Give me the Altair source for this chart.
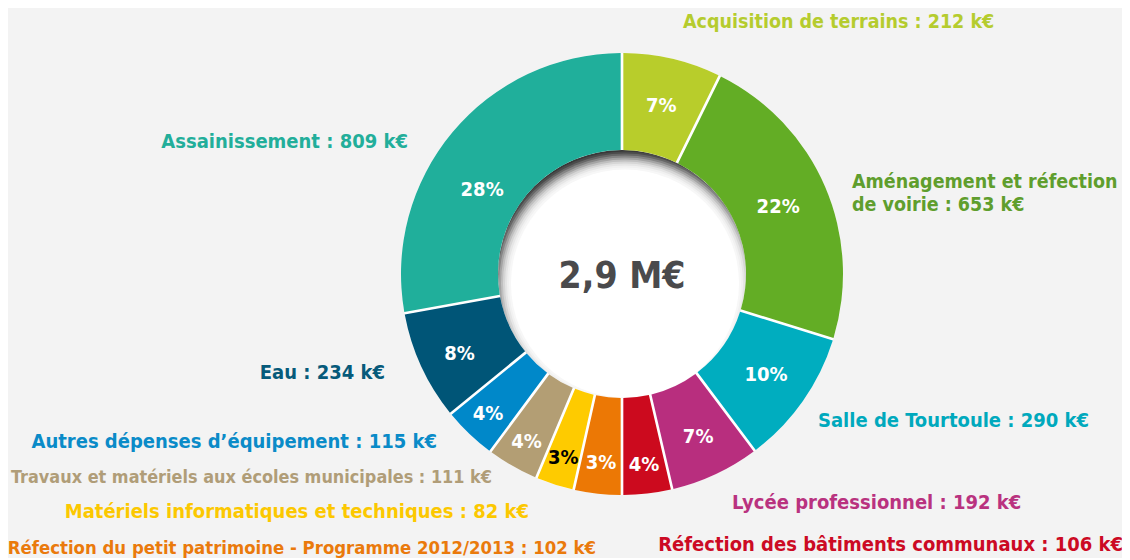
import math
import altair as alt
import pandas as pd

# ---- data ----
categories = [
    "Acquisition de terrains",
    "Aménagement et réfection de voirie",
    "Salle de Tourtoule",
    "Lycée professionnel",
    "Réfection des bâtiments communaux",
    "Réfection du petit patrimoine - Programme 2012/2013",
    "Matériels informatiques et techniques",
    "Travaux et matériels aux écoles municipales",
    "Autres dépenses d’équipement",
    "Eau",
    "Assainissement",
]
values_keur = [212, 653, 290, 192, 106, 102, 82, 111, 115, 234, 809]
pct_labels = ["7%", "22%", "10%", "7%", "4%", "3%", "3%", "4%", "4%", "8%", "28%"]
total_label = "2,9 M€"

# ---- styles / layout ----
slice_colors = ["#b8cd2b", "#63ad25", "#00adbf", "#b82e7e", "#cc0a1e", "#ec7805",
                "#fecb00", "#b39e74", "#0088c9", "#005577", "#20af9b"]
label_colors = ["#b5cc2e", "#5f9e2d", "#00a9bd", "#b9327f", "#cc0a24", "#ea7a0c",
                "#fcc800", "#b09d78", "#0a8bc8", "#065a7a", "#22ae9a"]
pct_text_colors = ["white"] * 11
pct_text_colors[6] = "black"
# radius (px) of each percentage label and an angular nudge (degrees) from the slice middle
pct_radius = [173, 170, 176, 180, 192, 190, 193, 193, 194, 181, 163]
pct_nudge_deg = [0, 0, 0, 0, 0, 0, 0, 0, 0, -1.5, -9]

FONT = "DejaVu Sans Condensed, sans-serif"
W, H = 1114, 550
CX, CY = 614, 266
R_OUT, R_IN = 221, 124

total = sum(values_keur)
df = pd.DataFrame({
    "idx": list(range(len(categories))),
    "cat": categories,
    "value": values_keur,
    "pct": pct_labels,
    "tcol": pct_text_colors,
})
cum = df["value"].cumsum()
df["mid"] = cum - df["value"] / 2 + pd.Series(pct_nudge_deg) / 360.0 * total
df["lr"] = pct_radius

one = pd.DataFrame({"k": [0]})
FULL = 6.2832


def disc(cx, cy, r, color, opacity=1.0):
    return alt.Chart(one).mark_arc(theta=0, theta2=FULL, radius=r, color=color, opacity=opacity).encode(
        x=alt.value(cx), y=alt.value(cy))


layers = []
# white backing disc so that the gaps between slices read as white separators
layers.append(disc(CX, CY, R_OUT, "white"))
# hole with an inner shadow: dark disc, then soft white discs shifted downwards
layers.append(disc(CX, CY, R_IN, "#333333"))
OFF = 10
ux, uy = 0.3, 0.954
sx, sy = CX + ux * OFF, CY + uy * OFF
prev = 1.0
for j in range(10):
    g = math.exp(-(((2 * j + 2) / 11.0) ** 2))
    a = 1 - g / prev
    prev = g
    layers.append(disc(sx, sy, R_IN + OFF - 2 * j, "white", round(a, 4)))
layers.append(disc(sx, sy, R_IN - OFF, "white"))

ring = alt.Chart(df).mark_arc(outerRadius=R_OUT, innerRadius=R_IN, padAngle=0.0105).encode(
    theta=alt.Theta("value:Q", stack=True),
    order=alt.Order("idx:Q"),
    x=alt.value(CX),
    y=alt.value(CY),
    color=alt.Color("cat:N", scale=alt.Scale(domain=categories, range=slice_colors), legend=None),
)
layers.append(ring)

pcts = alt.Chart(df).mark_text(font=FONT, fontSize=20, fontWeight="bold",
                               align="center", baseline="middle").encode(
    theta=alt.Theta("mid:Q", stack=None, scale=alt.Scale(domain=[0, total])),
    radius=alt.Radius("lr:Q", scale=None),
    x=alt.value(CX),
    y=alt.value(CY),
    text="pct:N",
    color=alt.Color("tcol:N", scale=None),
)
layers.append(pcts)

layers.append(alt.Chart(one).mark_text(font=FONT, fontSize=37, fontWeight="bold", color="#4a4a4c",
                                       baseline="middle", align="center").encode(
    x=alt.value(CX), y=alt.value(CY + 3), text=alt.value(total_label)))

# category labels: (x, y, align, font size)
label_pos = [
    (675, 14, "left", 19.5),
    (844, 173.5, "left", 19.5),
    (810, 413, "left", 20),
    (724, 495, "left", 20),
    (1115, 537, "right", 20),
    (588, 540, "right", 18.4),
    (521, 504, "right", 20),
    (484, 470, "right", 17.9),
    (429, 434, "right", 20),
    (377, 365, "right", 20),
    (400, 134, "right", 20),
]
for i, (name, v) in enumerate(zip(categories, values_keur)):
    txt = f"{name} : {v} k€"
    if i == 1:
        txt = "Aménagement et réfection\nde voirie : " + f"{v} k€"
    lx, ly, al, fs = label_pos[i]
    layers.append(alt.Chart(one).mark_text(font=FONT, fontSize=fs, fontWeight="bold",
                                           color=label_colors[i], align=al, baseline="middle",
                                           lineBreak="\n", lineHeight=23).encode(
        x=alt.value(lx), y=alt.value(ly), text=alt.value(txt)))

chart = alt.layer(*layers).resolve_scale(theta="independent").properties(
    width=W, height=H, padding=0,
    autosize=alt.AutoSizeParams(type="none"),
    background="#f3f3f3",
).configure_view(stroke=None)

chart.save("out.html", embed_options={"renderer": "svg", "actions": False})
